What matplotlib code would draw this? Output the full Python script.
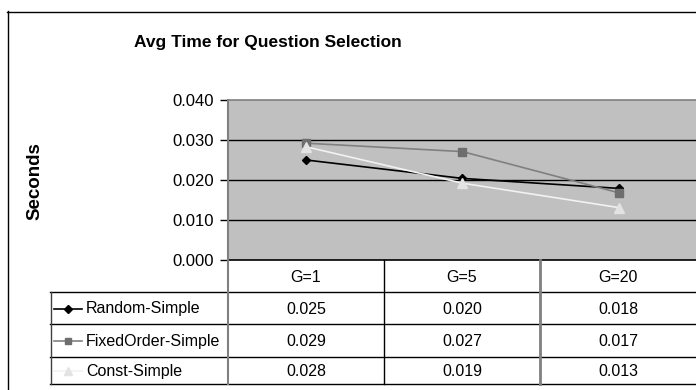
import matplotlib
matplotlib.use("Agg")
import matplotlib.pyplot as plt
from matplotlib.lines import Line2D

plt.rcParams['font.family'] = ['Liberation Sans', 'DejaVu Sans']

title = "Avg Time for Question Selection"
categories = ["G=1", "G=5", "G=20"]
series_names = ["Random-Simple", "FixedOrder-Simple", "Const-Simple"]
random_simple = [0.0250, 0.0204, 0.0179]
fixed_simple = [0.0292, 0.0271, 0.0168]
const_simple = [0.0283, 0.0192, 0.0131]
y_ticks = [0.000, 0.010, 0.020, 0.030, 0.040]

series = [random_simple, fixed_simple, const_simple]
styles = [
    dict(color="black", marker="D", ms=4.5, mfc="black", mec="black", lw=1.2),
    dict(color="#808080", marker="s", ms=6, mfc="#6e6e6e", mec="#6e6e6e", lw=1.2),
    dict(color="#f2f2f2", marker="^", ms=6.5, mfc="#e3e3e3", mec="#e3e3e3", lw=1.2),
]

W, H = 696, 390
fig = plt.figure(figsize=(W / 100, H / 100), dpi=100)

# plot area in pixels: left 228, top 100, bottom 260, runs off the right edge
px_left, px_top, px_bot, px_right = 228, 100, 260, 697
ax = fig.add_axes([px_left / W, 1 - px_bot / H, (px_right - px_left) / W, (px_bot - px_top) / H])
ax.set_facecolor("#c0c0c0")
x = list(range(len(categories)))
for vals, st in zip(series, styles):
    ax.plot(x, vals, zorder=3, **st)
ax.set_xlim(-0.5, len(categories) - 0.5)
ax.set_ylim(y_ticks[0], y_ticks[-1])
ax.set_yticks(y_ticks)
ax.set_yticklabels(["%.3f" % v for v in y_ticks], fontsize=12)
ax.tick_params(axis="y", direction="out", length=6, width=1, color="black", pad=4)
ax.set_xticks([])
for v in y_ticks[1:-1]:
    ax.axhline(v, color="black", lw=1, zorder=1)
ax.spines["right"].set_visible(False)
ax.spines["left"].set_color("#808080")
ax.spines["left"].set_linewidth(1.5)
ax.spines["top"].set_color("#808080")
ax.spines["top"].set_linewidth(1.2)
ax.spines["bottom"].set_color("black")
ax.spines["bottom"].set_linewidth(1.2)

# overlay in pixel coordinates for border, title and data table
ov2 = fig.add_axes([0, 0, 1, 1])
ov2.set_xlim(0, W)
ov2.set_ylim(H, 0)
ov2.axis("off")
ov2.patch.set_alpha(0)

# chart border
ov2.plot([7.5, 7.5], [11, H], color="black", lw=1)
ov2.plot([7, W], [11.5, 11.5], color="black", lw=1)

ov2.text(268, 42, title, ha="center", va="center", fontsize=12.5, fontweight="bold")
ov2.text(35, 181, "Seconds", ha="center", va="center", rotation=90, fontsize=13.5, fontweight="bold")

# table
col_w = (696 - px_left) / len(categories)
row_lines = [292, 324, 356.5, 384]
lab_left = 50
header_y = (px_bot + row_lines[0]) / 2
for y in row_lines:
    ov2.plot([lab_left, W], [y, y], color="black", lw=1)
ov2.plot([lab_left + 0.5, lab_left + 0.5], [row_lines[0], row_lines[-1]], color="#404040", lw=1)
ov2.plot([px_left, px_left], [px_bot, row_lines[-1]], color="#808080", lw=1.5)
for i in range(1, len(categories)):
    xb = px_left + i * col_w
    ov2.plot([xb, xb], [px_bot, row_lines[-1]], color="black" if i == 1 else "#808080",
             lw=1 if i == 1 else 2)

for i, c in enumerate(categories):
    ov2.text(px_left + (i + 0.5) * col_w, header_y + 1, c, ha="center", va="center", fontsize=11.5)

for r, (name, vals, st) in enumerate(zip(series_names, series, styles)):
    yc = (row_lines[r] + row_lines[r + 1]) / 2 + 1
    ov2.add_line(Line2D([54, 82], [yc, yc], color=st["color"], lw=1.2))
    ov2.add_line(Line2D([68], [yc], marker=st["marker"], ms=st["ms"] * 0.8,
                        mfc=st["mfc"], mec=st["mec"], ls="none"))
    ov2.text(86, yc, name, ha="left", va="center", fontsize=11.5)
    for i, v in enumerate(vals):
        ov2.text(px_left + (i + 0.5) * col_w, yc, "%.3f" % v, ha="center", va="center", fontsize=11.5)

fig.savefig("out.png", dpi=100, facecolor="white")
